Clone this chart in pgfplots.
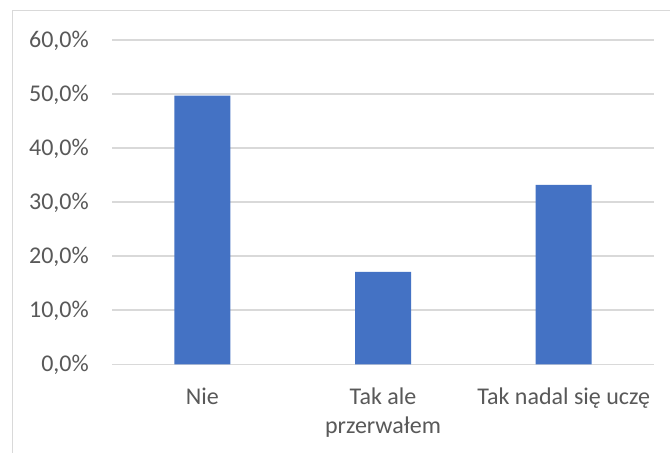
\documentclass[border=0pt]{standalone}
\usepackage{pgfplots}
\pgfplotsset{compat=1.18}
\usepackage{fontspec}
\setmainfont{Carlito}
\definecolor{barblue}{HTML}{4472C4}
\definecolor{txtgray}{HTML}{595959}
\definecolor{gridgray}{HTML}{D9D9D9}
\begin{document}
\begin{tikzpicture}[font=\fontsize{24bp}{29.5bp}\selectfont]
\useasboundingbox (0,0) rectangle (670bp,453bp);
\fill[white] (0,0) rectangle (670bp,453bp);
\draw[gridgray, line width=1.5bp] (12.5bp,0) -- (12.5bp,442.5bp) -- (670bp,442.5bp);
\begin{axis}[
  at={(112bp,88.7bp)}, anchor=south west,
  scale only axis,
  width=542bp, height=324.3bp,
  xmin=-0.5, xmax=2.5,
  ymin=0, ymax=60,
  axis line style={draw=none},
  ybar, bar width=56bp,
  xtick={0,1,2},
  xticklabels={Nie,{Tak ale\\przerwałem},{Tak nadal się uczę}},
  ytick={0,10,20,30,40,50,60},
  yticklabels={{0,0\%},{10,0\%},{20,0\%},{30,0\%},{40,0\%},{50,0\%},{60,0\%}},
  xticklabel style={anchor=north, inner sep=0pt, yshift=-23bp, align=center, text=txtgray},
  yticklabel style={anchor=base east, inner sep=0pt, xshift=-23bp, yshift=-7.6bp, text=txtgray},
  major tick length=0pt,
  tick style={draw=none},
  ymajorgrids,
  grid style={gridgray, line width=1.5bp},
  clip=false,
]
\addplot[fill=barblue, draw=none] coordinates {(0,49.7) (1,17.1) (2,33.2)};
\end{axis}
\end{tikzpicture}
\end{document}
